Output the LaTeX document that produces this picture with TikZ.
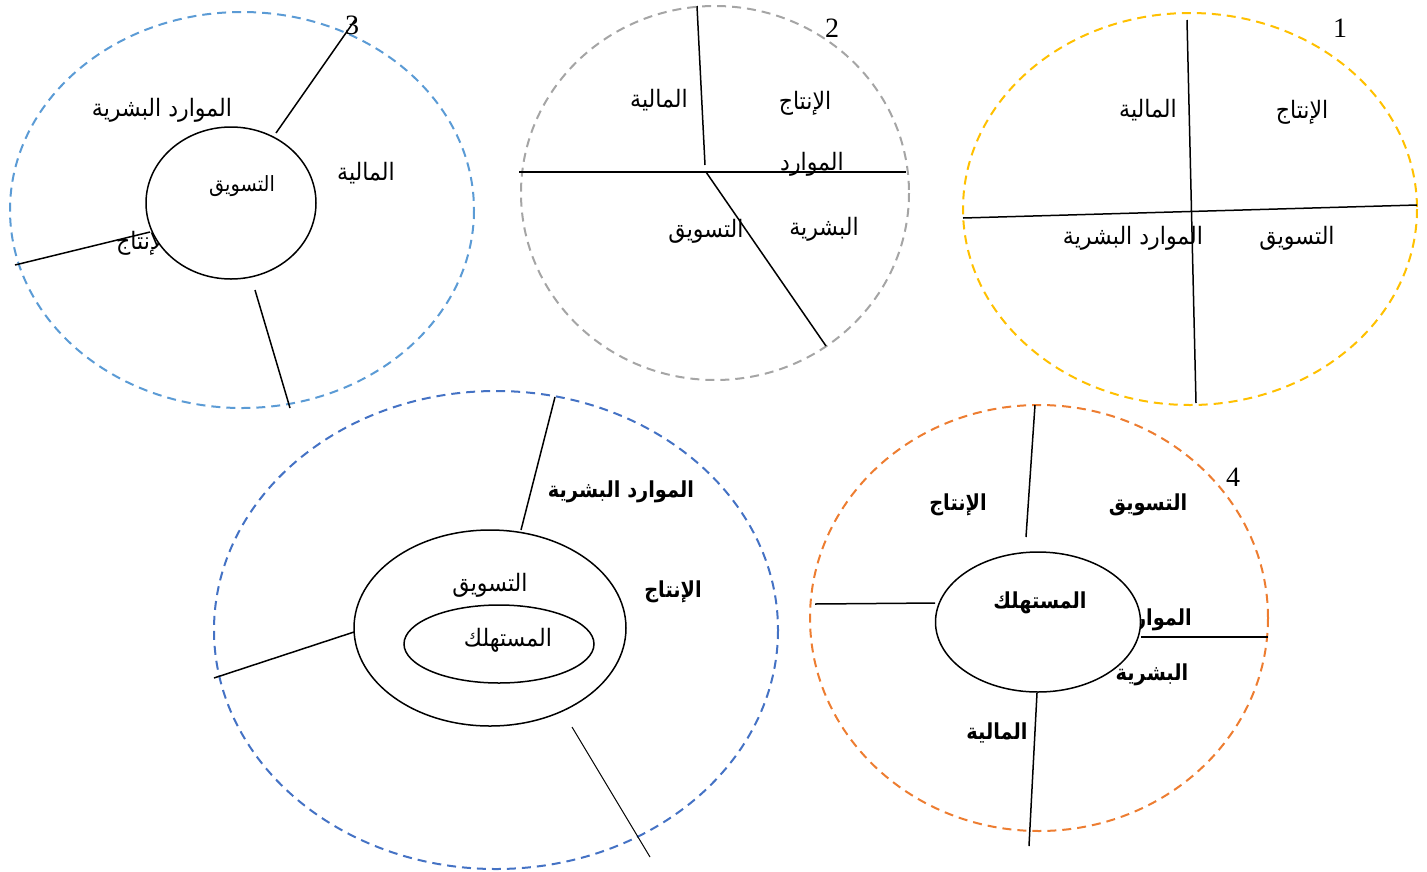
\documentclass[tikz,border=0pt]{standalone}
\usepackage{fontspec}
\setmainfont{Liberation Serif}
\newfontfamily\arabicfont[Script=Arabic]{DejaVu Sans}
\TeXXeTstate=1
\usetikzlibrary{shapes.geometric}
\begin{document}
\begin{tikzpicture}[x=1pt,y=-1pt,
  outer/.style={line width=2pt,dash pattern=on 9pt off 6pt},
  divider/.style={line width=1.5pt,black},
  thin divider/.style={line width=1pt,black},
  inner/.style={ellipse,draw,line width=1.5pt,fill=white,inner sep=0pt},
  lbl/.style={font=\fontsize{24}{28}\selectfont\arabicfont,inner sep=0pt,xscale=0.92},
  blbl/.style={font=\fontsize{22}{26}\selectfont\arabicfont\bfseries,inner sep=0pt,xscale=0.88},
  num/.style={font=\fontsize{28}{32}\selectfont,inner sep=0pt}]
\useasboundingbox (0,0) rectangle (1427,871);
\definecolor{cyellow}{HTML}{FFC000}
\definecolor{cgray}{HTML}{A5A5A5}
\definecolor{clblue}{HTML}{5B9BD5}
\definecolor{cblue}{HTML}{4472C4}
\definecolor{corange}{HTML}{ED7D31}

% ---------- 1 ----------
\draw[outer,cyellow] (1190,209) ellipse [x radius=227,y radius=196];
\coordinate (a1t) at (1187,20); \coordinate (a1b) at (1196,403);
\coordinate (a1l) at (963,218); \coordinate (a1r) at (1417,205);
\draw[divider] (a1t) -- (a1b);
\draw[divider] (a1l) -- (a1r);
\node[lbl] (a1fin) at (1148,110) {\beginR المالية\endR};
\node[lbl] (a1prod) at (1302,112) {\beginR الإنتاج\endR};
\node[lbl] (a1mkt) at (1297,238) {\beginR التسويق\endR};
\node[lbl] (a1hr) at (1133,238) {\beginR الموارد البشرية\endR};
\node[num] (n1) at (1340,28) {1};

% ---------- 2 ----------
\draw[outer,cgray] (715,193) ellipse [x radius=194,y radius=187];
\coordinate (a2t) at (697,6); \coordinate (a2c) at (705,165);
\coordinate (a2l) at (519,172); \coordinate (a2r) at (906,172);
\coordinate (a2o) at (706,172); \coordinate (a2d) at (826,346);
\draw[divider] (a2t) -- (a2c);
\draw[divider] (a2l) -- (a2r);
\draw[divider] (a2o) -- (a2d);
\node[lbl] (a2fin) at (659,100) {\beginR المالية\endR};
\node[lbl] (a2prod) at (805,103) {\beginR الإنتاج\endR};
\node[lbl] (a2hr1) at (812,164) {\beginR الموارد\endR};
\node[lbl] (a2hr2) at (824,229) {\beginR البشرية\endR};
\node[lbl] (a2mkt) at (706,231) {\beginR التسويق\endR};
\node[num] (n2) at (832,28) {2};

% ---------- 3 ----------
\draw[outer,clblue] (242,210) ellipse [x radius=232,y radius=198];
\node[lbl,anchor=west] (a3prod) at (116,243) {\beginR الإنتاج\endR};
\node[inner,minimum width=170,minimum height=152] (a3in) at (231,203) {};
\node[lbl,font=\fontsize{21}{25}\selectfont\arabicfont] (a3mkt) at (242,186) {\beginR التسويق\endR};
\coordinate (a3u) at (276,133); \coordinate (a3ue) at (355,20);
\coordinate (a3l) at (150,232); \coordinate (a3le) at (15,265);
\coordinate (a3d) at (255,290); \coordinate (a3de) at (290,408);
\draw[divider] (a3u) -- (a3ue);
\draw[divider] (a3l) -- (a3le);
\draw[divider] (a3d) -- (a3de);
\node[lbl] (a3hr) at (162,110) {\beginR الموارد البشرية\endR};
\node[lbl] (a3fin) at (366,173) {\beginR المالية\endR};
\node[num] (n3) at (352,25) {3};

% ---------- 5 (bottom left) ----------
\draw[outer,cblue] (496,630) ellipse [x radius=282,y radius=239];
\node[inner,minimum width=272,minimum height=196] (a5mid) at (490,628) {};
\node[inner,minimum width=190,minimum height=78] (a5in) at (499,644) {};
\node[lbl] (a5mkt) at (490,585) {\beginR التسويق\endR};
\node[lbl] (a5cons) at (508,640) {\beginR المستهلك\endR};
\node[blbl] (a5hr) at (621,492) {\beginR الموارد البشرية\endR};
\node[blbl] (a5prod) at (673,592) {\beginR الإنتاج\endR};
\coordinate (a5ue) at (555,397); \coordinate (a5u) at (521,530);
\coordinate (a5le) at (214,678); \coordinate (a5l) at (354,632);
\coordinate (a5d) at (572,727); \coordinate (a5de) at (650,857);
\draw[divider] (a5ue) -- (a5u);
\draw[divider] (a5l) -- (a5le);
\draw[thin divider] (a5d) -- (a5de);

% ---------- 4 ----------
\draw[outer,corange] (1039,618) ellipse [x radius=229,y radius=213];
\node[blbl,anchor=east] (a4hr1) at (1192,620) {\beginR الموارد\endR};
\node[inner,minimum width=205,minimum height=140] (a4in) at (1038,622) {};
\node[blbl] (a4cons) at (1040,603) {\beginR المستهلك\endR};
\node[blbl] (a4prod) at (958,505) {\beginR الإنتاج\endR};
\node[blbl] (a4mkt) at (1148,505) {\beginR التسويق\endR};
\node[blbl] (a4hr2) at (1152,675) {\beginR البشرية\endR};
\node[blbl] (a4fin) at (997,733) {\beginR المالية\endR};
\node[num] (n4) at (1233,477) {4};
\coordinate (a4ue) at (1035,405); \coordinate (a4u) at (1026,537);
\coordinate (a4le) at (815,604); \coordinate (a4l) at (935,603);
\coordinate (a4r) at (1141,637); \coordinate (a4re) at (1268,637);
\coordinate (a4d) at (1037,693); \coordinate (a4de) at (1029,846);
\draw[divider] (a4ue) -- (a4u);
\draw[divider] (a4le) -- (a4l);
\draw[divider] (a4r) -- (a4re);
\draw[divider] (a4d) -- (a4de);
\end{tikzpicture}
\end{document}
